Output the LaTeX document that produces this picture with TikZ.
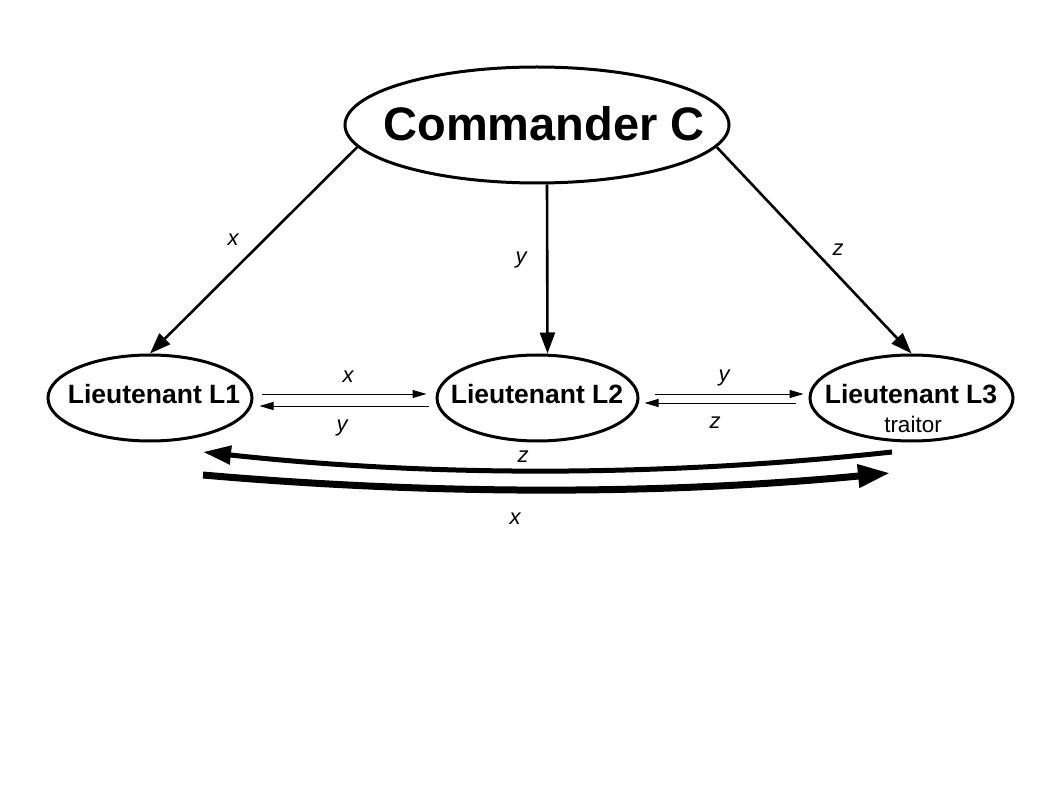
\documentclass[tikz,border=0pt]{standalone}
\usepackage{fontspec}
\setmainfont{Liberation Sans}
\usetikzlibrary{shapes.geometric,arrows.meta}
\begin{document}
\begin{tikzpicture}[x=1pt,y=-1pt,
  ell/.style={draw,ellipse,line width=3pt,inner sep=0pt},
  title/.style={font=\fontsize{47}{56}\selectfont\bfseries,inner sep=0pt},
  lt/.style={font=\fontsize{26.5}{31}\selectfont\bfseries,inner sep=0pt},
  sub/.style={font=\fontsize{22.5}{27}\selectfont,inner sep=0pt},
  lab/.style={font=\fontsize{22}{26}\selectfont\itshape,inner sep=0pt},
  bigarrow/.style={line width=2.6pt,-{Triangle[length=21pt,width=15pt]}},
  thinarrow/.style={line width=1pt,-{Triangle[length=14pt,width=8pt]}},
  zarrow/.style={line width=5pt,-{Triangle[length=28pt,width=18pt]}},
  xarrow/.style={line width=7pt,-{Triangle[length=32pt,width=22pt]}}]
\useasboundingbox[fill=white] (0,0) rectangle (1058,794);
% nodes
\node[ell,minimum width=384pt,minimum height=116pt] (C) at (537,125) {};
\node[title] (Ct) at (544,124) {Commander C};
\node[ell,minimum width=204pt,minimum height=86pt] (L1) at (150,398) {};
\node[lt] (L1t) at (154,394) {Lieutenant L1};
\node[ell,minimum width=201pt,minimum height=86pt] (L2) at (537.5,398) {};
\node[lt] (L2t) at (537,394) {Lieutenant L2};
\node[ell,minimum width=203pt,minimum height=86pt] (L3) at (911.5,398) {};
\node[lt] (L3t) at (911,394) {Lieutenant L3};
\node[sub] (L3s) at (913,424) {traitor};
% commander edges
\draw[bigarrow] (C.187) -- (L1.north);
\draw[bigarrow] ([xshift=10pt]C.south) -- ([xshift=10pt]L2.north);
\draw[bigarrow] (C.-7) -- (L3.north);
\node[lab] (lx) at (233,240) {x};
\node[lab] (ly) at (521,260) {y};
\node[lab] (lz) at (838,250) {z};
% lieutenant exchanges
\draw[thinarrow] ([shift={(8,-4)}]L1.east) -- ([shift={(-9,-4)}]L2.west);
\draw[thinarrow] ([shift={(-7,8)}]L2.west) -- ([shift={(6,8)}]L1.east);
\draw[thinarrow] ([shift={(15,-4)}]L2.east) -- ([shift={(-5,-4)}]L3.west);
\draw[thinarrow] ([shift={(-13,5)}]L3.west) -- ([shift={(5,5)}]L2.east);
\node[lab] (a1) at (348,377) {x};
\node[lab] (a2) at (342,428) {y};
\node[lab] (a3) at (724,378) {y};
\node[lab] (a4) at (715,423) {z};
% long relayed messages
\coordinate (zs) at (892,452);
\coordinate (ze) at (203,452);
\coordinate (xs) at (203,475);
\coordinate (xe) at (890,473);
\draw[zarrow] (zs) .. controls (662,477) and (432,477) .. (ze);
\draw[xarrow] (xs) .. controls (432,495) and (661,495) .. (xe);
\node[lab] (a5) at (523,457) {z};
\node[lab] (a6) at (515,519) {x};
\end{tikzpicture}
\end{document}
